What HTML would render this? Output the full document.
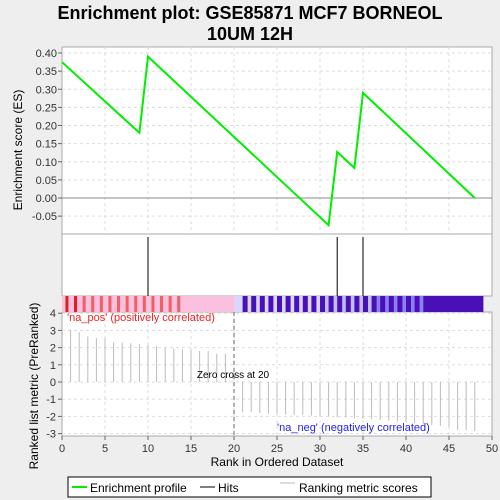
<!DOCTYPE html>
<html><head><meta charset="utf-8"><style>
body{margin:0;background:#eeeeee;font-family:"Liberation Sans","DejaVu Sans",sans-serif;}
svg{display:block}
</style></head><body>
<svg id="chart" width="500" height="500" xmlns="http://www.w3.org/2000/svg" font-family="Liberation Sans, DejaVu Sans, sans-serif"></svg>
<script>
const esRanks=[0,9,10,31,32,34,35,48];
const esValues=[0.375,0.18,0.39,-0.075,0.127,0.083,0.29,0.0];
const hitRanks=[10,32,35];
const metricRanks=[1,2,3,4,5,6,7,8,9,10,11,12,13,14,15,16,17,18,19,21,22,23,24,25,26,27,28,29,30,31,32,33,34,35,36,37,38,39,40,41,42,43,44,45,46,47,48];
const metricValues=[3.05,2.9,2.65,2.55,2.55,2.3,2.3,2.25,2.2,2.15,2.1,2.0,1.95,1.9,1.85,1.8,1.8,1.65,1.65,-1.75,-1.75,-1.8,-1.85,-1.85,-1.9,-1.9,-1.9,-1.95,-2.0,-2.0,-2.05,-2.05,-2.1,-2.15,-2.15,-2.2,-2.25,-2.3,-2.35,-2.4,-2.45,-2.5,-2.55,-2.6,-2.8,-2.8,-2.85];
const xTicks=[0,5,10,15,20,25,30,35,40,45,50];
const esTicks=[0.40,0.35,0.30,0.25,0.20,0.15,0.10,0.05,0.00,-0.05];
const mTicks=[4,3,2,1,0,-1,-2,-3];

const svg=document.getElementById('chart');
const NS='http://www.w3.org/2000/svg';
function mk(tag,attrs,parent){const e=document.createElementNS(NS,tag);for(const k in attrs)e.setAttribute(k,attrs[k]);(parent||svg).appendChild(e);return e;}
const X0=62,X1=492;
const xS=v=>X0+v*(X1-X0)/50;
const esY=v=>198-v*362.5;
const mY=v=>382-v*17.2;

let t=mk('text',{x:250,y:19,'text-anchor':'middle','font-size':18,'font-weight':'bold',fill:'#000'});t.textContent='Enrichment plot: GSE85871 MCF7 BORNEOL';

t=mk('text',{x:250,y:40,'text-anchor':'middle','font-size':18,'font-weight':'bold',fill:'#000'});t.textContent='10UM 12H';


let p=mk('rect',{x:X0,y:47,width:X1-X0,height:187,fill:'#fff',stroke:'#aaa'});

p=mk('rect',{x:X0,y:234,width:X1-X0,height:62,fill:'#fff',stroke:'#aaa'});

p=mk('rect',{x:X0,y:312,width:X1-X0,height:124,fill:'#fff',stroke:'#aaa'});


xTicks.forEach(v=>{
 if(v>0&&v<50){mk('line',{x1:xS(v),x2:xS(v),y1:47,y2:234,stroke:'#ddd','stroke-dasharray':'3,3'});
 mk('line',{x1:xS(v),x2:xS(v),y1:312,y2:436,stroke:'#ddd','stroke-dasharray':'3,3'});}
 mk('line',{x1:xS(v),x2:xS(v),y1:436,y2:440,stroke:'#666'});
 const l=mk('text',{x:xS(v),y:452,'text-anchor':'middle','font-size':11,fill:'#333'});l.textContent=v;
 
});
esTicks.forEach(v=>{
 mk('line',{x1:X0,x2:X1,y1:esY(v),y2:esY(v),stroke:v===0?'#888':'#ddd','stroke-dasharray':v===0?'':'3,3'});
 mk('line',{x1:X0-4,x2:X0,y1:esY(v),y2:esY(v),stroke:'#666'});
 const l=mk('text',{x:X0-5,y:esY(v)+4,'text-anchor':'end','font-size':11,fill:'#333'});l.textContent=v.toFixed(2);
 
});
mTicks.forEach(v=>{
 mk('line',{x1:X0,x2:X1,y1:mY(v),y2:mY(v),stroke:'#ddd','stroke-dasharray':'3,3'});
 mk('line',{x1:X0-4,x2:X0,y1:mY(v),y2:mY(v),stroke:'#666'});
 const l=mk('text',{x:X0-6,y:mY(v)+4,'text-anchor':'end','font-size':11,fill:'#333'});l.textContent=v;
 
});

const pts=esRanks.map((r,i)=>xS(r)+','+esY(esValues[i])).join(' ');
const es=mk('polyline',{points:pts,fill:'none',stroke:'#00ee00','stroke-width':2});


hitRanks.forEach(r=>{const h=mk('line',{x1:xS(r),x2:xS(r),y1:237,y2:296,stroke:'#000','stroke-width':1});
 });

const cb=mk('g',{});
mk('rect',{x:X0,y:296,width:xS(20)-X0,height:16,fill:'#fbbfe0'},cb);
mk('rect',{x:xS(20),y:296,width:xS(30)-xS(20),height:16,fill:'#d8d6fa'},cb);
mk('rect',{x:xS(30),y:296,width:xS(36)-xS(30),height:16,fill:'#c0bcf6'},cb);
mk('rect',{x:xS(36),y:296,width:xS(42)-xS(36),height:16,fill:'#8a80f0'},cb);
mk('rect',{x:xS(42),y:296,width:xS(49)-xS(42),height:16,fill:'#4a10b8'},cb);
for(let i=0;i<14;i++){mk('rect',{x:xS(0.4+i),y:296,width:3,height:16,fill:i<2?'#e02020':'#f06060'},cb);}
for(let i=21;i<42;i++){mk('rect',{x:xS(i),y:296,width:5,height:16,fill:'#4a10b8'},cb);}

metricRanks.forEach((r,i)=>{const b=mk('line',{x1:xS(r),x2:xS(r),y1:mY(0),y2:mY(metricValues[i]),stroke:'#bbb'});
 });
mk('line',{x1:xS(20),x2:xS(20),y1:312,y2:436,stroke:'#666','stroke-dasharray':'4,3'});
t=mk('text',{x:233,y:378,'text-anchor':'middle','font-size':10,fill:'#000'});t.textContent='Zero cross at 20';

t=mk('text',{x:67,y:321,'font-size':11,fill:'#ee2222'});t.textContent="'na_pos' (positively correlated)";

t=mk('text',{x:277,y:431,'font-size':11,fill:'#2222ee'});t.textContent="'na_neg' (negatively correlated)";


t=mk('text',{x:277,y:466,'text-anchor':'middle','font-size':12,fill:'#000'});t.textContent='Rank in Ordered Dataset';

t=mk('text',{x:0,y:0,'text-anchor':'middle','font-size':12,fill:'#000',transform:'translate(22,150) rotate(-90)'});t.textContent='Enrichment score (ES)';

t=mk('text',{x:0,y:0,'text-anchor':'middle','font-size':12,fill:'#000',transform:'translate(38,386) rotate(-90)'});t.textContent='Ranked list metric (PreRanked)';


const lg=mk('g',{});
mk('rect',{x:68,y:477,width:363,height:20,fill:'#fff',stroke:'#000'},lg);
mk('line',{x1:72,x2:87,y1:487,y2:487,stroke:'#00ee00','stroke-width':2},lg);
let lt=mk('text',{x:90,y:492,'font-size':12,fill:'#000'},lg);lt.textContent='Enrichment profile';

mk('line',{x1:200,x2:215,y1:487,y2:487,stroke:'#000'},lg);
lt=mk('text',{x:218,y:492,'font-size':12,fill:'#000'},lg);lt.textContent='Hits';

mk('line',{x1:280,x2:295,y1:483,y2:483,stroke:'#bbb'},lg);
lt=mk('text',{x:299,y:492,'font-size':12,fill:'#000'},lg);lt.textContent='Ranking metric scores';

</script>
</body></html>
